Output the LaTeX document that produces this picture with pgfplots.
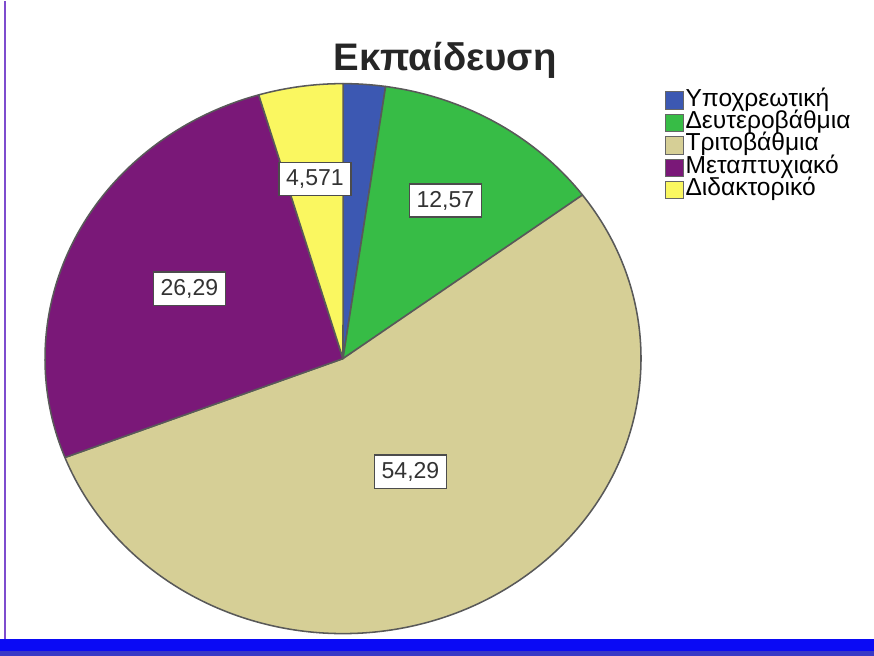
\documentclass[border=0pt]{standalone}
\usepackage{fontspec}
\setmainfont{Liberation Sans}
\usepackage{pgfplots}
\usepackage{pgfplotstable}
\usetikzlibrary{calc}
\pgfplotsset{compat=1.18}

\definecolor{cblue}{RGB}{60,88,178}
\definecolor{cgreen}{RGB}{55,188,70}
\definecolor{ctan}{RGB}{214,207,150}
\definecolor{cpurple}{RGB}{122,24,120}
\definecolor{cyellow}{RGB}{250,247,96}
\definecolor{frameblue}{RGB}{10,10,245}

% share in percent, slice colour, label radius (fraction), label text
\pgfplotstableread{
value  color    lr    text
2.286  cblue    0     -
12.57  cgreen   0.67  12,57
54.29  ctan     0.47  54,29
26.29  cpurple  0.575 26,29
4.571  cyellow  0.66  4,571
}\piedata

\begin{document}
\begin{tikzpicture}
\begin{axis}[
    width=12cm, height=8.993cm,
    scale only axis,
    hide axis,
    xmin=0, xmax=874,
    ymin=0, ymax=655,
    clip=false,
    legend style={at={(0.7517,0.873)}, anchor=north west, draw=none, fill=none,
        font=\fontsize{9.6}{10}\selectfont, row sep=0pt,
        nodes={inner sep=0.6pt, text height=5.9pt, text depth=1.65pt},
        /tikz/every even column/.append style={column sep=1.5pt}},
    legend image code/.code={\draw[#1] (0cm,-0.12cm) rectangle (0.245cm,0.12cm);},
    legend cell align=left,
]
\addlegendimage{fill=cblue, draw=black!60}
\addlegendimage{fill=cgreen, draw=black!60}
\addlegendimage{fill=ctan, draw=black!60}
\addlegendimage{fill=cpurple, draw=black!60}
\addlegendimage{fill=cyellow, draw=black!60}
\legend{Υποχρεωτική, Δευτεροβάθμια, Τριτοβάθμια, Μεταπτυχιακό, Διδακτορικό}

\pgfplotsextra{
  % frame of the original screenshot
  \path (axis cs:0,0) rectangle (axis cs:874,655);
  \fill[frameblue] (axis cs:0,5) rectangle (axis cs:874,17);
  \fill[blue!55!gray] (axis cs:0,0) rectangle (axis cs:874,5);
  \draw[blue!45!violet!70, line width=0.5pt] (axis cs:5,17) -- (axis cs:5,655);
  % title
  \node[font=\fontsize{15}{17}\selectfont\bfseries, text=black!85]
    at (axis cs:445,595) {Εκπαίδευση};
  % pie slices, clockwise from the top
  \pgfplotstablegetrowsof{\piedata}
  \pgfmathtruncatemacro\nrows{\pgfplotsretval-1}
  \gdef\angstart{90}
  \foreach \i in {0,...,\nrows} {
    \pgfplotstablegetelem{\i}{value}\of\piedata \edef\v{\pgfplotsretval}
    \pgfplotstablegetelem{\i}{color}\of\piedata \edef\c{\pgfplotsretval}
    \pgfmathsetmacro\angend{\angstart-3.6*\v}
    \fill[fill=\c, draw=black!65, line width=0.6pt, line join=round]
      (axis cs:343,297) -- ++(\angstart:4.0915cm and 3.7757cm)
      arc[start angle=\angstart, end angle=\angend, x radius=4.0915cm, y radius=3.7757cm]
      -- cycle;
    \xdef\angstart{\angend}
  }
  % value labels
  \gdef\angstart{90}
  \foreach \i in {0,...,\nrows} {
    \pgfplotstablegetelem{\i}{value}\of\piedata \edef\v{\pgfplotsretval}
    \pgfplotstablegetelem{\i}{lr}\of\piedata \edef\lr{\pgfplotsretval}
    \pgfplotstablegetelem{\i}{text}\of\piedata \edef\t{\pgfplotsretval}
    \pgfmathsetmacro\angend{\angstart-3.6*\v}
    \pgfmathsetmacro\mid{(\angstart+\angend)/2}
    \pgfmathsetmacro\lx{\lr*4.0915}
    \pgfmathsetmacro\ly{\lr*3.7757}
    \pgfmathparse{\lr>0 ? 1 : 0}
    \ifnum\pgfmathresult=1
      \node[fill=white, draw=black!70, line width=0.6pt, inner sep=2.8pt,
            font=\fontsize{9}{10}\selectfont, text=black!80]
        at ($(axis cs:343,297)+(\mid:\lx cm and \ly cm)$) {\t};
    \fi
    \xdef\angstart{\angend}
  }
}
\end{axis}
\end{tikzpicture}
\end{document}
